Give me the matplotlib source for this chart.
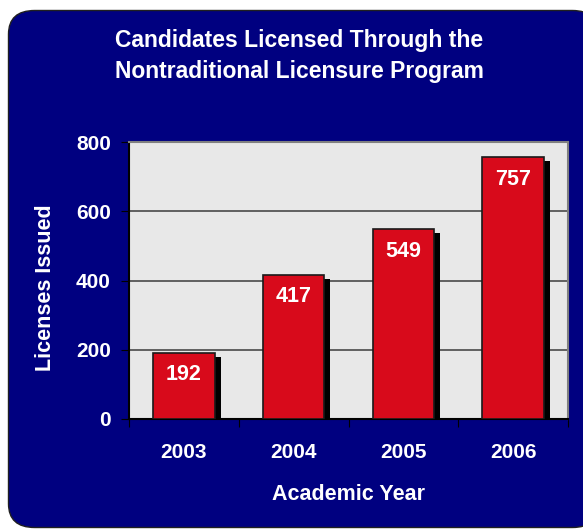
import numpy as np
import matplotlib
matplotlib.use('Agg')
import matplotlib.pyplot as plt
from matplotlib.patches import FancyBboxPatch
import matplotlib.patheffects as pe

years = ['2003', '2004', '2005', '2006']
licenses = [192, 417, 549, 757]
yticks = [0, 200, 400, 600, 800]

navy = '#000080'
red = '#D80A1B'
plt.rcParams['font.family'] = ['Liberation Sans', 'DejaVu Sans']
plt.rcParams['font.weight'] = 'bold'

fig = plt.figure(figsize=(5.83, 5.29), dpi=100)
fig.patch.set_facecolor('white')

# navy rounded panel behind everything
panel = FancyBboxPatch((8.5 / 583, 1.5 / 529), 590 / 583, 517 / 529,
                       boxstyle='round,pad=0,rounding_size=0.045',
                       transform=fig.transFigure, facecolor=navy,
                       edgecolor='#202020', linewidth=1, zorder=-5)
fig.patches.append(panel)

ax = fig.add_axes([129 / 583, 1 - 419 / 529, 439 / 583, 277 / 529])
ax.set_facecolor('#E8E8E8')
x = np.arange(len(years))

bars = ax.bar(x, licenses, width=0.56, color=red, edgecolor='#1a1a1a',
              linewidth=1.2, zorder=3)
for b in bars:
    b.set_path_effects([pe.SimplePatchShadow(offset=(4.3, -2.9), shadow_rgbFace='black', alpha=1.0),
                        pe.Normal()])

for xi, v in zip(x, licenses):
    ax.annotate(str(v), (xi, v), xytext=(0, -16), textcoords='offset points',
                ha='center', va='center', color='white', fontsize=15.5,
                fontweight='bold', zorder=4)

ax.set_xlim(-0.5, len(years) - 0.5)
ax.set_ylim(0, 800)
ax.set_yticks(yticks)
ax.set_yticklabels([str(t) for t in yticks], color='white', fontsize=15, fontweight='bold')
ax.yaxis.grid(True, color='#555555', linewidth=1.3, zorder=1)
ax.set_axisbelow(True)

ax.set_xticks(np.arange(len(years) + 1) - 0.5)
ax.set_xticklabels([])
ax.set_xticks(x, minor=True)
ax.set_xticklabels(years, minor=True, color='white', fontsize=15, fontweight='bold')
ax.tick_params(axis='x', which='minor', length=0, pad=17)
ax.tick_params(axis='x', which='major', length=6, color='black', direction='out')
ax.tick_params(axis='y', length=6, color='black', pad=7)

for s in ax.spines.values():
    s.set_color('#808080')
    s.set_linewidth(1.5)
ax.spines['bottom'].set_color('black')
ax.spines['left'].set_color('black')

ax.set_xlabel('Academic Year', color='white', fontsize=15.5, fontweight='bold', labelpad=16)
ax.set_ylabel('Licenses Issued', color='white', fontsize=15.5, fontweight='bold')
ax.yaxis.set_label_coords(-0.166, 0.473)

fig.text(299 / 583, 1 - 56 / 529, 'Candidates Licensed Through the\nNontraditional Licensure Program',
         ha='center', va='center', color='white', fontsize=16.5, fontweight='bold',
         linespacing=1.45)

fig.savefig('out.png', dpi=100, facecolor=fig.get_facecolor())
